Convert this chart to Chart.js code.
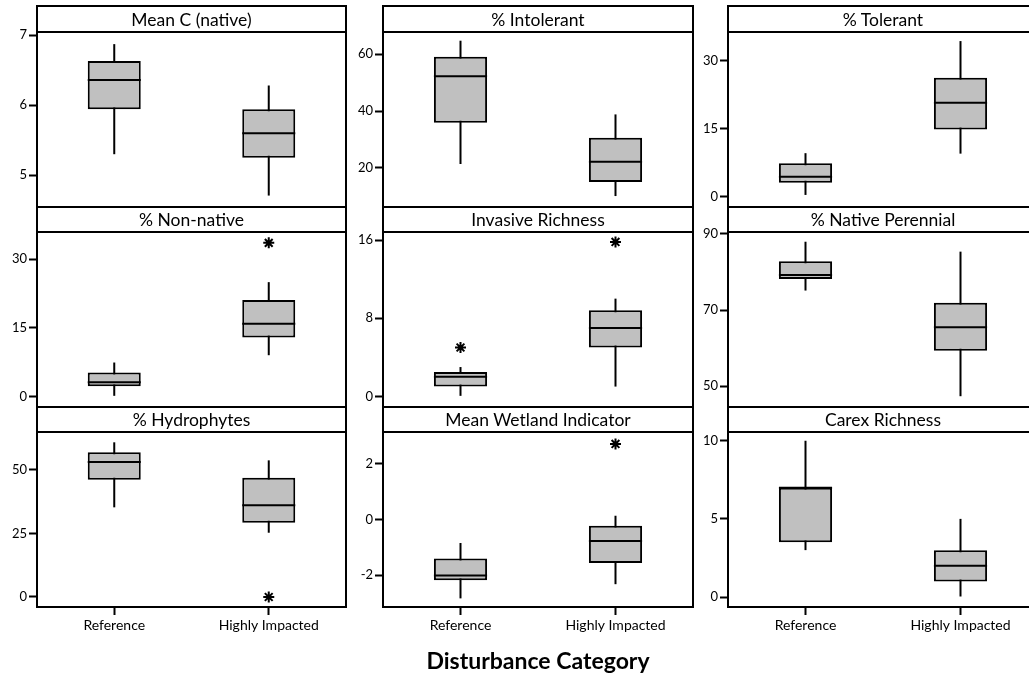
<!DOCTYPE html>
<html>
<head>
<meta charset="utf-8">
<script src="https://cdn.jsdelivr.net/npm/chart.js@4.4.1/dist/chart.umd.min.js"></script>
<style>
html,body{margin:0;padding:0;background:#fff;overflow:hidden;width:1029px;height:674px;}
#wrap{position:relative;width:1029px;height:674px;overflow:hidden;background:#fff;}
#wrap canvas{position:absolute;}
.strip{position:absolute;box-sizing:border-box;border:2px solid #000;background:transparent;
  font-family:Lato,"DejaVu Sans",sans-serif;font-size:17.5px;text-align:center;color:#000;white-space:nowrap;}
#xtitle{position:absolute;left:288px;width:500px;top:646px;text-align:center;
  font-family:Lato,"DejaVu Sans",sans-serif;font-weight:bold;font-size:23px;line-height:28px;color:#000;}
</style>
</head>
<body>
<div id="wrap"></div>
<script>
// ---------- data ----------
const categories = ['Reference', 'Highly Impacted'];
const panelTitles = ['Mean C (native)', '% Intolerant', '% Tolerant',
                     '% Non-native', 'Invasive Richness', '% Native Perennial',
                     '% Hydrophytes', 'Mean Wetland Indicator', 'Carex Richness'];
const xAxisTitle = 'Disturbance Category';

// [Reference, Highly Impacted] per panel
const whiskerLow  = [[5.30, 4.71], [21.3, 10.0], [0.4, 9.5], [0.0, 9.0], [0, 1], [75.1, 47.4], [35.3, 25.3], [-2.83, -2.32], [3, 0]];
const quartile1   = [[5.94, 5.25], [35.9, 15.0], [3.1, 14.8], [2.2, 12.9], [1, 5], [78.1, 59.3], [46.2, 29.2], [-2.18, -1.56], [3.5, 1]];
const medians     = [[6.36, 5.60], [52.3, 22.1], [4.4, 20.7], [3.1, 15.9], [2, 7], [79.2, 65.5], [53.1, 36.1], [-2.01, -0.77], [7, 2]];
const quartile3   = [[6.63, 5.94], [59.1, 30.6], [7.4, 26.2], [5.2, 21.1], [2.5, 8.8], [82.8, 71.9], [57.0, 46.9], [-1.40, -0.22], [7, 3]];
const whiskerHigh = [[6.87, 6.28], [64.8, 38.8], [9.6, 34.3], [7.4, 25.0], [3, 10], [87.9, 85.3], [60.9, 53.8], [-0.84, 0.14], [10, 5]];
// outliers: [category index, value]
const outliers = [[], [], [], [[1, 33.6]], [[0, 5.0], [1, 15.8]], [], [[1, 0]], [[1, 2.72]], []];

const yTicks  = [[5, 6, 7], [20, 40, 60], [0, 15, 30], [0, 15, 30], [0, 8, 16], [50, 70, 90], [0, 25, 50], [-2, 0, 2], [0, 5, 10]];
const yRanges = [[4.547, 7.043], [6.14, 67.87], [-2.26, 36.3], [-2.34, 35.98], [-1.09, 16.82], [44.57, 90.45], [-3.94, 64.96], [-3.14, 3.15], [-0.64, 10.56]];

// ---------- layout ----------
const colLefts = [37, 383, 728];
const colWidths = [309, 310, 310];
const plotTops = [32, 232, 432];
const plotH = 175;
const AX = 45, PT = 14, PR = 14, PB = 14;
const FONT = 'Lato, "DejaVu Sans", sans-serif';

const framePlugin = {
  id: 'frame',
  afterDraw(chart) {
    const {ctx, chartArea: a} = chart;
    ctx.save();
    ctx.lineWidth = 2;
    ctx.strokeStyle = '#000';
    ctx.strokeRect(a.left, a.top, a.right - a.left, a.bottom - a.top);
    ctx.restore();
  }
};

const medianPlugin = {
  id: 'medians',
  afterDatasetsDraw(chart, args, opts) {
    const meta = chart.getDatasetMeta(1);
    const ys = chart.scales.y;
    const ctx = chart.ctx;
    ctx.save();
    ctx.lineWidth = 2;
    ctx.strokeStyle = '#000';
    meta.data.forEach((el, i) => {
      const v = opts.values[i];
      if (v === null || v === undefined) return;
      const y = ys.getPixelForValue(v);
      ctx.beginPath();
      ctx.moveTo(el.x - el.width / 2, y);
      ctx.lineTo(el.x + el.width / 2, y);
      ctx.stroke();
    });
    ctx.restore();
  }
};

const wrap = document.getElementById('wrap');

for (let p = 0; p < 9; p++) {
  const r = Math.floor(p / 3), c = p % 3;
  const left = colLefts[c], w = colWidths[c], top = plotTops[r];
  const XH = r === 2 ? 34 : 0;

  const cv = document.createElement('canvas');
  const cw = AX + w + PR, ch = PT + plotH + XH + PB;
  cv.width = cw; cv.height = ch;
  cv.style.width = cw + 'px'; cv.style.height = ch + 'px';
  cv.style.left = (left - AX) + 'px';
  cv.style.top = (top - PT) + 'px';
  wrap.appendChild(cv);

  const strip = document.createElement('div');
  strip.className = 'strip';
  const stripTop = r === 0 ? 6 : plotTops[r - 1] + plotH;
  strip.style.left = (left - 1) + 'px';
  strip.style.top = (stripTop - 1) + 'px';
  strip.style.width = (w + 2) + 'px';
  strip.style.height = (top - stripTop + 2) + 'px';
  strip.style.lineHeight = (top - stripTop - 1) + 'px';
  strip.textContent = panelTitles[p];
  wrap.appendChild(strip);

  const outData = outliers[p].map(o => ({x: categories[o[0]], y: o[1]}));

  new Chart(cv, {
    type: 'bar',
    data: {
      labels: categories,
      datasets: [
        {
          label: 'whisker',
          data: [0, 1].map(i => [whiskerLow[p][i], whiskerHigh[p][i]]),
          backgroundColor: '#000',
          borderWidth: 0,
          barThickness: 2,
          inflateAmount: 0,
          grouped: false,
          order: 3
        },
        {
          label: 'box',
          data: [0, 1].map(i => [quartile1[p][i], quartile3[p][i]]),
          backgroundColor: '#c0c0c0',
          borderColor: '#000',
          borderWidth: 2,
          borderSkipped: false,
          categoryPercentage: 1,
          barPercentage: 0.343,
          grouped: false,
          order: 2
        },
        {
          type: 'line',
          label: 'outliers',
          data: outData,
          showLine: false,
          pointStyle: 'star',
          radius: 5.5,
          borderWidth: 2,
          borderColor: '#000',
          backgroundColor: '#000',
          order: 1
        }
      ]
    },
    options: {
      responsive: false,
      animation: false,
      events: [],
      layout: {padding: {top: PT, right: PR, bottom: PB, left: 0}},
      plugins: {
        legend: {display: false},
        tooltip: {enabled: false},
        title: {display: false},
        medians: {values: medians[p]}
      },
      scales: {
        x: {
          type: 'category',
          offset: true,
          border: {display: false},
          grid: {
            display: r === 2,
            offset: false,
            drawOnChartArea: false,
            drawTicks: r === 2,
            tickLength: 8,
            tickWidth: 2,
            tickColor: '#000',
            color: '#000'
          },
          ticks: {
            display: r === 2,
            color: '#000',
            font: {family: FONT, size: 14},
            padding: 2,
            maxRotation: 0,
            autoSkip: false
          },
          afterFit(s) { s.height = XH; }
        },
        y: {
          min: yRanges[p][0],
          max: yRanges[p][1],
          border: {display: false},
          grid: {
            drawOnChartArea: false,
            drawTicks: true,
            tickLength: 8,
            tickWidth: 2,
            tickColor: '#000',
            color: '#000'
          },
          ticks: {
            color: '#000',
            font: {family: FONT, size: 13},
            padding: 2,
            callback: v => String(v)
          },
          afterBuildTicks(s) { s.ticks = yTicks[p].map(v => ({value: v})); },
          afterFit(s) { s.width = AX; }
        }
      }
    },
    plugins: [framePlugin, medianPlugin]
  });
}

const xt = document.createElement('div');
xt.id = 'xtitle';
xt.textContent = xAxisTitle;
wrap.appendChild(xt);
</script>
</body>
</html>
